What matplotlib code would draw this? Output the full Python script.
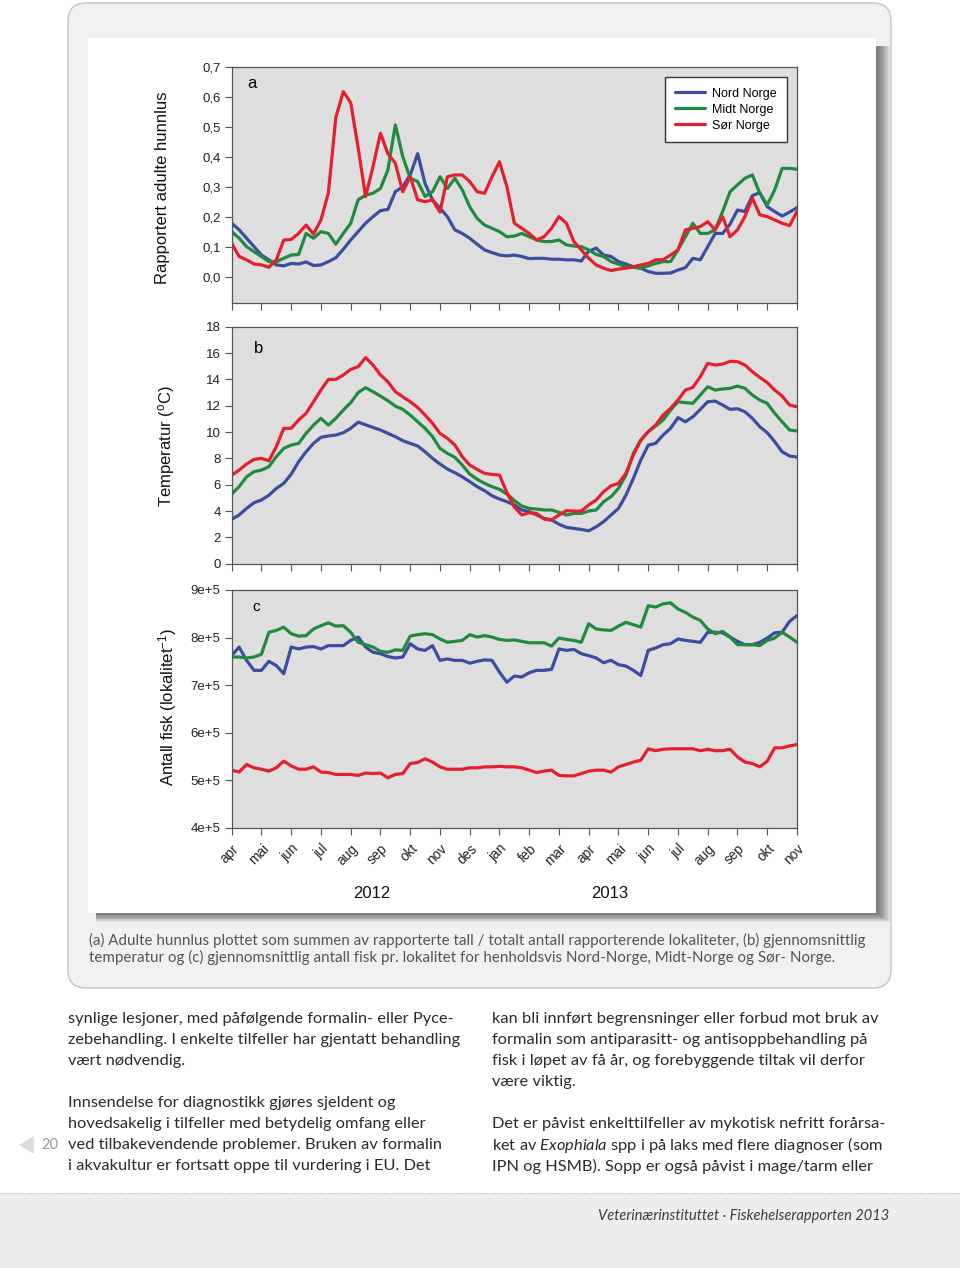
import numpy as np
import matplotlib
matplotlib.use('Agg')
import matplotlib.pyplot as plt
from matplotlib.patches import Rectangle, FancyBboxPatch, Polygon

# tid i måneder fra april 2012, avlest hver kvart måned
t = np.arange(0, 19.01, 0.25)
month_labels = ['apr', 'mai', 'jun', 'jul', 'aug', 'sep', 'okt', 'nov', 'des', 'jan',
                'feb', 'mar', 'apr', 'mai', 'jun', 'jul', 'aug', 'sep', 'okt', 'nov']
series_names = ['Nord Norge', 'Midt Norge', 'Sør Norge']

# (a) rapportert adulte hunnlus
lus_nord = [0.178, 0.156, 0.128, 0.100, 0.072, 0.056, 0.039, 0.036, 0.044, 0.042, 0.049, 0.037,
            0.039, 0.050, 0.063, 0.091, 0.122, 0.150, 0.178, 0.200, 0.220, 0.224, 0.283, 0.300,
            0.339, 0.410, 0.310, 0.256, 0.228, 0.200, 0.156, 0.144, 0.128, 0.108, 0.089, 0.080,
            0.072, 0.069, 0.072, 0.067, 0.060, 0.061, 0.061, 0.058, 0.058, 0.056, 0.056, 0.052,
            0.085, 0.095, 0.072, 0.067, 0.050, 0.042, 0.033, 0.028, 0.017, 0.011, 0.011, 0.012,
            0.022, 0.030, 0.061, 0.056, 0.100, 0.144, 0.144, 0.175, 0.222, 0.217, 0.270, 0.280,
            0.233, 0.217, 0.202, 0.215, 0.230]
lus_midt = [0.150, 0.128, 0.100, 0.083, 0.067, 0.050, 0.050, 0.061, 0.072, 0.074, 0.144, 0.128,
            0.150, 0.144, 0.108, 0.144, 0.178, 0.256, 0.272, 0.278, 0.294, 0.356, 0.506, 0.400,
            0.328, 0.317, 0.267, 0.283, 0.333, 0.294, 0.328, 0.289, 0.233, 0.194, 0.172, 0.161,
            0.150, 0.133, 0.135, 0.144, 0.133, 0.122, 0.117, 0.117, 0.122, 0.106, 0.102, 0.100,
            0.089, 0.074, 0.067, 0.050, 0.042, 0.033, 0.031, 0.028, 0.036, 0.044, 0.050, 0.050,
            0.089, 0.133, 0.178, 0.144, 0.144, 0.156, 0.217, 0.283, 0.306, 0.328, 0.339, 0.278,
            0.239, 0.289, 0.361, 0.361, 0.358]
lus_sor = [0.111, 0.067, 0.056, 0.042, 0.039, 0.031, 0.056, 0.122, 0.124, 0.144, 0.172, 0.142,
           0.189, 0.280, 0.530, 0.617, 0.580, 0.430, 0.267, 0.367, 0.478, 0.410, 0.378, 0.283,
           0.333, 0.256, 0.250, 0.256, 0.215, 0.333, 0.339, 0.339, 0.317, 0.283, 0.278, 0.333,
           0.383, 0.300, 0.178, 0.161, 0.144, 0.122, 0.133, 0.161, 0.200, 0.178, 0.117, 0.089,
           0.061, 0.039, 0.028, 0.020, 0.025, 0.028, 0.033, 0.039, 0.044, 0.056, 0.056, 0.072,
           0.089, 0.156, 0.161, 0.167, 0.183, 0.156, 0.200, 0.133, 0.156, 0.200, 0.262, 0.206,
           0.200, 0.189, 0.178, 0.170, 0.217]

# (b) temperatur
temp_nord = [3.37, 3.70, 4.20, 4.63, 4.84, 5.20, 5.72, 6.10, 6.80, 7.75, 8.50, 9.14,
             9.60, 9.70, 9.77, 9.95, 10.28, 10.75, 10.55, 10.35, 10.15, 9.90, 9.65, 9.34,
             9.14, 8.94, 8.50, 8.00, 7.57, 7.19, 6.91, 6.60, 6.23, 5.85, 5.54, 5.16,
             4.91, 4.71, 4.46, 4.08, 3.95, 3.70, 3.44, 3.32, 3.00, 2.76, 2.68, 2.60,
             2.50, 2.80, 3.19, 3.70, 4.20, 5.20, 6.48, 7.87, 9.00, 9.14, 9.77, 10.28,
             11.09, 10.78, 11.16, 11.72, 12.30, 12.35, 12.05, 11.72, 11.77, 11.54, 11.04, 10.40,
             9.95, 9.27, 8.50, 8.18, 8.10]
temp_midt = [5.29, 5.85, 6.60, 6.99, 7.11, 7.37, 8.13, 8.76, 9.01, 9.14, 9.90, 10.53,
             11.04, 10.53, 11.04, 11.67, 12.23, 12.99, 13.37, 13.06, 12.73, 12.38, 11.97, 11.72,
             11.29, 10.78, 10.28, 9.65, 8.76, 8.38, 8.08, 7.49, 6.81, 6.41, 6.10, 5.85,
             5.65, 5.29, 4.80, 4.38, 4.20, 4.15, 4.08, 4.08, 3.90, 3.70, 3.82, 3.82,
             4.00, 4.08, 4.71, 5.09, 5.72, 6.73, 8.38, 9.39, 10.03, 10.46, 10.91, 11.67,
             12.30, 12.23, 12.18, 12.81, 13.44, 13.19, 13.27, 13.32, 13.49, 13.32, 12.81, 12.43,
             12.18, 11.42, 10.78, 10.15, 10.08]
temp_sor = [6.73, 7.11, 7.57, 7.92, 8.00, 7.82, 8.89, 10.28, 10.28, 10.91, 11.42, 12.30,
            13.19, 14.00, 14.00, 14.33, 14.76, 14.96, 15.65, 15.09, 14.33, 13.82, 13.06, 12.68,
            12.30, 11.87, 11.29, 10.66, 9.90, 9.52, 9.01, 8.13, 7.49, 7.16, 6.86, 6.78,
            6.73, 5.40, 4.30, 3.70, 3.87, 3.82, 3.39, 3.32, 3.70, 4.03, 4.00, 4.00,
            4.46, 4.84, 5.47, 5.92, 6.10, 6.86, 8.25, 9.39, 10.03, 10.53, 11.29, 11.80,
            12.43, 13.19, 13.39, 14.20, 15.22, 15.09, 15.16, 15.37, 15.34, 15.09, 14.58, 14.15,
            13.75, 13.19, 12.73, 12.05, 11.92]

# (c) antall fisk per lokalitet, i 1e5
fisk_nord = [7.62, 7.80, 7.52, 7.31, 7.31, 7.50, 7.41, 7.24, 7.80, 7.76, 7.80, 7.81,
             7.76, 7.83, 7.83, 7.83, 7.94, 8.01, 7.80, 7.69, 7.66, 7.60, 7.57, 7.59,
             7.87, 7.76, 7.73, 7.83, 7.52, 7.55, 7.52, 7.52, 7.46, 7.50, 7.53, 7.52,
             7.27, 7.06, 7.19, 7.17, 7.26, 7.31, 7.31, 7.33, 7.76, 7.73, 7.75, 7.66,
             7.62, 7.57, 7.47, 7.52, 7.43, 7.40, 7.31, 7.20, 7.73, 7.78, 7.85, 7.87,
             7.97, 7.94, 7.92, 7.90, 8.11, 8.11, 8.10, 8.01, 7.92, 7.85, 7.85, 7.90,
             7.99, 8.10, 8.11, 8.34, 8.46]
fisk_midt = [7.59, 7.59, 7.57, 7.59, 7.65, 8.11, 8.15, 8.22, 8.08, 8.03, 8.04, 8.18,
             8.25, 8.31, 8.24, 8.25, 8.11, 7.90, 7.85, 7.80, 7.71, 7.69, 7.74, 7.73,
             8.03, 8.06, 8.08, 8.06, 7.97, 7.90, 7.92, 7.94, 8.06, 8.01, 8.04, 8.01,
             7.96, 7.94, 7.95, 7.92, 7.89, 7.89, 7.89, 7.82, 7.99, 7.96, 7.94, 7.90,
             8.29, 8.18, 8.16, 8.15, 8.24, 8.32, 8.27, 8.22, 8.67, 8.64, 8.71, 8.73,
             8.60, 8.53, 8.43, 8.36, 8.18, 8.08, 8.13, 8.01, 7.85, 7.85, 7.85, 7.83,
             7.94, 7.99, 8.11, 8.01, 7.90]
fisk_sor = [5.21, 5.17, 5.33, 5.26, 5.23, 5.19, 5.26, 5.40, 5.30, 5.23, 5.23, 5.28,
            5.17, 5.16, 5.12, 5.12, 5.12, 5.10, 5.15, 5.14, 5.15, 5.05, 5.12, 5.14,
            5.35, 5.37, 5.45, 5.38, 5.28, 5.23, 5.23, 5.23, 5.26, 5.26, 5.28, 5.28,
            5.29, 5.28, 5.28, 5.26, 5.21, 5.16, 5.19, 5.21, 5.10, 5.09, 5.09, 5.14,
            5.19, 5.21, 5.21, 5.17, 5.28, 5.33, 5.38, 5.42, 5.66, 5.62, 5.65, 5.66,
            5.66, 5.66, 5.66, 5.62, 5.65, 5.62, 5.62, 5.65, 5.49, 5.38, 5.35, 5.28,
            5.40, 5.68, 5.68, 5.72, 5.75]

caption = ["(a) Adulte hunnlus plottet som summen av rapporterte tall / totalt antall rapporterende lokaliteter, (b) gjennomsnittlig",
           "temperatur og (c) gjennomsnittlig antall fisk pr. lokalitet for henholdsvis Nord-Norge, Midt-Norge og Sør- Norge."]
left_col = ["synlige lesjoner, med påfølgende formalin- eller Pyce-",
            "zebehandling. I enkelte tilfeller har gjentatt behandling",
            "vært nødvendig.",
            "",
            "Innsendelse for diagnostikk gjøres sjeldent og",
            "hovedsakelig i tilfeller med betydelig omfang eller",
            "ved tilbakevendende problemer. Bruken av formalin",
            "i akvakultur er fortsatt oppe til vurdering i EU. Det"]
right_col = ["kan bli innført begrensninger eller forbud mot bruk av",
             "formalin som antiparasitt- og antisoppbehandling på",
             "fisk i løpet av få år, og forebyggende tiltak vil derfor",
             "være viktig.",
             "",
             "Det er påvist enkelttilfeller av mykotisk nefritt forårsa-",
             r"ket av $\mathit{Exophiala}$ spp i på laks med flere diagnoser (som",
             "IPN og HSMB). Sopp er også påvist i mage/tarm eller"]
footer = "Veterinærinstituttet · Fiskehelserapporten 2013"

plt.rcParams['font.family'] = ['Liberation Sans', 'DejaVu Sans']
plt.rcParams['mathtext.fontset'] = 'custom'
plt.rcParams['mathtext.rm'] = 'Liberation Sans'
plt.rcParams['mathtext.it'] = 'Lato:italic'

W, H = 960, 1268
colors = ['#3b4d9e', '#218a3f', '#e3202d']

fig = plt.figure(figsize=(W / 100, H / 100), dpi=100)
fig.patch.set_facecolor('white')

# bakgrunn i pikselkoordinater
bg = fig.add_axes([0, 0, 1, 1])
bg.set_xlim(0, W)
bg.set_ylim(H, 0)
bg.axis('off')

bg.add_patch(FancyBboxPatch((68, 3), 823, 985, boxstyle='round,pad=0,rounding_size=18',
                            facecolor='#f1f1f1', edgecolor='#c4c4c4', lw=1))
for k in range(12):
    bg.add_patch(Rectangle((96, 46), 780 + 1.3 * k, 867 + 0.8 * k,
                           facecolor='black', edgecolor='none', alpha=0.06))
bg.add_patch(Rectangle((88, 38), 788, 875, facecolor='white', edgecolor='none'))

for i, line in enumerate(caption):
    bg.text(89, 940 + 17 * i, line, fontsize=10.9, color='#555555', family='Lato',
            ha='left', va='center')

for i, line in enumerate(left_col):
    if line:
        bg.text(68, 1019 + 21 * i, line, fontsize=11.8, color='#2a2a2a', family='Lato',
                ha='left', va='center')
for i, line in enumerate(right_col):
    if line:
        bg.text(492, 1019 + 21 * i, line, fontsize=11.8, color='#2a2a2a', family='Lato',
                ha='left', va='center')

bg.add_patch(Polygon([(19, 1145), (34, 1136), (34, 1154)], closed=True,
                     facecolor='#dcdcdc', edgecolor='none'))
bg.text(41, 1145, '20', fontsize=10.5, color='#9a9a9a', family='Lato', ha='left', va='center')

bg.add_patch(Rectangle((0, 1193), W, H - 1193, facecolor='#eeeeee', edgecolor='none'))
bg.plot([0, W], [1193, 1193], color='#b8b8b8', lw=0.8, ls=(0, (1, 1.5)))
bg.text(598, 1216, footer, fontsize=10.5, color='#3c3c3c', family='Lato', style='italic',
        ha='left', va='center')


def axes_rect(left, top, right, bottom):
    return [left / W, 1 - bottom / H, (right - left) / W, (bottom - top) / H]


def style_axes(ax):
    ax.set_facecolor('#dedede')
    for sp in ax.spines.values():
        sp.set_color('#555555')
        sp.set_linewidth(0.9)
    ax.tick_params(direction='out', length=5, width=0.8, color='#555555',
                   labelsize=9.5, labelcolor='#222222', pad=3)
    ax.set_xlim(0, 19)
    ax.set_xticks(range(len(month_labels)))


x_left, x_right = 231.7, 797

ax_a = fig.add_axes(axes_rect(x_left, 66.7, x_right, 303.3))
ax_b = fig.add_axes(axes_rect(x_left, 326.7, x_right, 563.7))
ax_c = fig.add_axes(axes_rect(x_left, 590, x_right, 827.7))

lw = 2.3
for vals, c, name in zip([lus_nord, lus_midt, lus_sor], colors, series_names):
    ax_a.plot(t, vals, color=c, lw=lw, label=name, solid_capstyle='round',
              solid_joinstyle='round')
for vals, c in zip([temp_nord, temp_midt, temp_sor], colors):
    ax_b.plot(t, vals, color=c, lw=lw, solid_capstyle='round', solid_joinstyle='round')
for vals, c in zip([fisk_nord, fisk_midt, fisk_sor], colors):
    ax_c.plot(t, vals, color=c, lw=lw, solid_capstyle='round', solid_joinstyle='round')

for ax in (ax_a, ax_b, ax_c):
    style_axes(ax)

ax_a.set_ylim(-0.089, 0.7)
a_ticks = [0.0, 0.1, 0.2, 0.3, 0.4, 0.5, 0.6, 0.7]
ax_a.set_yticks(a_ticks)
ax_a.set_yticklabels([f'{v:.1f}'.replace('.', ',') for v in a_ticks])
ax_a.set_xticklabels([])

ax_b.set_ylim(0, 18)
ax_b.set_yticks(range(0, 19, 2))
ax_b.set_xticklabels([])

ax_c.set_ylim(4, 9)
c_ticks = [4, 5, 6, 7, 8, 9]
ax_c.set_yticks(c_ticks)
ax_c.set_yticklabels([f'{v}e+5' for v in c_ticks])
ax_c.set_xticklabels(month_labels, rotation=45, ha='right', rotation_mode='anchor')
ax_c.tick_params(axis='x', pad=5, labelsize=9.8)

leg = ax_a.legend(loc='upper right', bbox_to_anchor=(0.982, 0.956), borderaxespad=0,
                  fancybox=False, framealpha=1, edgecolor='#333333', facecolor='white',
                  fontsize=9, handlelength=2.4, handletextpad=0.5, labelspacing=0.32,
                  borderpad=0.85)
leg.get_frame().set_linewidth(1.0)

ax_a.text(0.035, 0.93, 'a', transform=ax_a.transAxes, fontsize=12, ha='center', va='center')
ax_b.text(0.047, 0.91, 'b', transform=ax_b.transAxes, fontsize=12, ha='center', va='center')
ax_c.text(0.043, 0.93, 'c', transform=ax_c.transAxes, fontsize=11, ha='center', va='center')

bg.text(162, 188, 'Rapportert adulte hunnlus', rotation=90, fontsize=12,
        ha='center', va='center', color='#111111')
bg.text(167, 446, r'Temperatur ($^{\mathrm{o}}$C)', rotation=90, fontsize=12,
        ha='center', va='center', color='#111111')
bg.text(168, 707, r'Antall fisk (lokalitet$^{\mathrm{-1}}$)', rotation=90, fontsize=12,
        ha='center', va='center', color='#111111')
bg.text(372, 894, '2012', fontsize=12, ha='center', va='center', color='#111111')
bg.text(610, 894, '2013', fontsize=12, ha='center', va='center', color='#111111')

fig.savefig('out.png', dpi=100)
